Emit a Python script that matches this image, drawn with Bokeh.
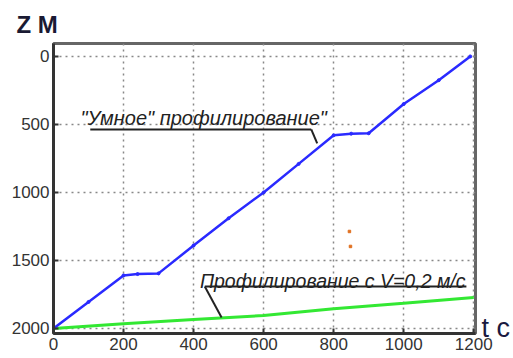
from bokeh.plotting import figure
from bokeh.models import Range1d, Label, FixedTicker, LinearAxis
from bokeh.embed import file_html
from bokeh.resources import INLINE

# ---- data ----
smart_t = [0, 100, 200, 240, 300, 400, 500, 600, 700, 800, 850, 900, 1000, 1100, 1190]
smart_z = [2000, 1805, 1610, 1600, 1595, 1390, 1190, 1000, 790, 580, 568, 565, 350, 175, 0]
const_t = [0, 200, 400, 600, 800, 1000, 1200]
const_z = [2000, 1965, 1934, 1905, 1855, 1815, 1772]
dots_t = [845, 848]
dots_z = [1287, 1397]
x_ticks = [0, 200, 400, 600, 800, 1000, 1200]
y_ticks = [0, 500, 1000, 1500, 2000]
smart_label = '"Умное" профилирование"'
const_label = "Профилирование с  V=0,2 м/с"
z_name = "Z M"
t_name = "t c"

FONT = "Liberation Sans"

p = figure(width=513, height=358, output_backend="svg", toolbar_location=None,
           x_range=Range1d(0, 1205), y_range=Range1d(2037, -95),
           min_border_left=53, min_border_right=36, min_border_top=43, min_border_bottom=25)
p.background_fill_color = "white"
p.border_fill_color = "white"
p.outline_line_color = "#666666"
p.outline_line_width = 3

p.title.text = z_name
p.title.align = "left"
p.title.offset = -37
p.title.text_font = FONT
p.title.text_font_size = "24px"
p.title.text_font_style = "bold"
p.title.text_color = "#1a1a33"
p.title.standoff = 11

for ax in (p.xaxis[0], p.yaxis[0]):
    ax.axis_line_color = "#333333"
    ax.axis_line_width = 3
    ax.major_tick_in = 5
    ax.major_tick_out = 0
    ax.major_tick_line_color = "#333333"
    ax.major_tick_line_width = 2
    ax.minor_tick_line_color = None
    ax.major_label_text_font = FONT
    ax.major_label_text_font_size = "17px"
    ax.major_label_text_color = "#333333"
    ax.major_label_standoff = 4
p.xaxis.ticker = FixedTicker(ticks=x_ticks)
p.yaxis.ticker = FixedTicker(ticks=y_ticks)

# right-side axis that only carries the time-axis name next to z=2000
t_axis = LinearAxis(ticker=FixedTicker(ticks=[y_ticks[-1]]),
                    major_label_overrides={y_ticks[-1]: t_name},
                    axis_line_color=None, major_tick_line_color=None, minor_tick_line_color=None,
                    major_label_text_font=FONT, major_label_text_font_size="27px",
                    major_label_text_color="#1a1a40", major_label_standoff=0)
p.add_layout(t_axis, "right")

p.xgrid.ticker = FixedTicker(ticks=x_ticks)
p.ygrid.ticker = FixedTicker(ticks=y_ticks)
for g in (p.xgrid[0], p.ygrid[0]):
    g.grid_line_color = "#888888"
    g.grid_line_dash = "2 4"
    g.grid_line_width = 1.5

p.line(const_t, const_z, line_color="#33e833", line_width=3)
p.line(smart_t, smart_z, line_color="#2a2aff", line_width=2.5)
p.scatter(smart_t, smart_z, size=3, color="#2a2aff")
p.scatter(dots_t, dots_z, size=2.5, color="#e07020", marker="square")

# annotations (data units inside the frame)
p.add_layout(Label(x=77, y=456, text=smart_label, text_font=FONT, text_font_style="italic",
                   text_font_size="20px", text_color="#222222", text_baseline="alphabetic"))
p.segment(x0=[105, 736], y0=[537, 537], x1=[736, 753], y1=[537, 640], line_color="#222222", line_width=2)

p.add_layout(Label(x=418, y=1654, text=const_label, text_font=FONT, text_font_style="italic",
                   text_font_size="19.5px", text_color="#222222", text_baseline="alphabetic"))
p.segment(x0=[432, 432], y0=[1691, 1691], x1=[1179, 480], y1=[1691, 1919], line_color="#222222", line_width=2)

open("out.html", "w").write(file_html(p, INLINE))
